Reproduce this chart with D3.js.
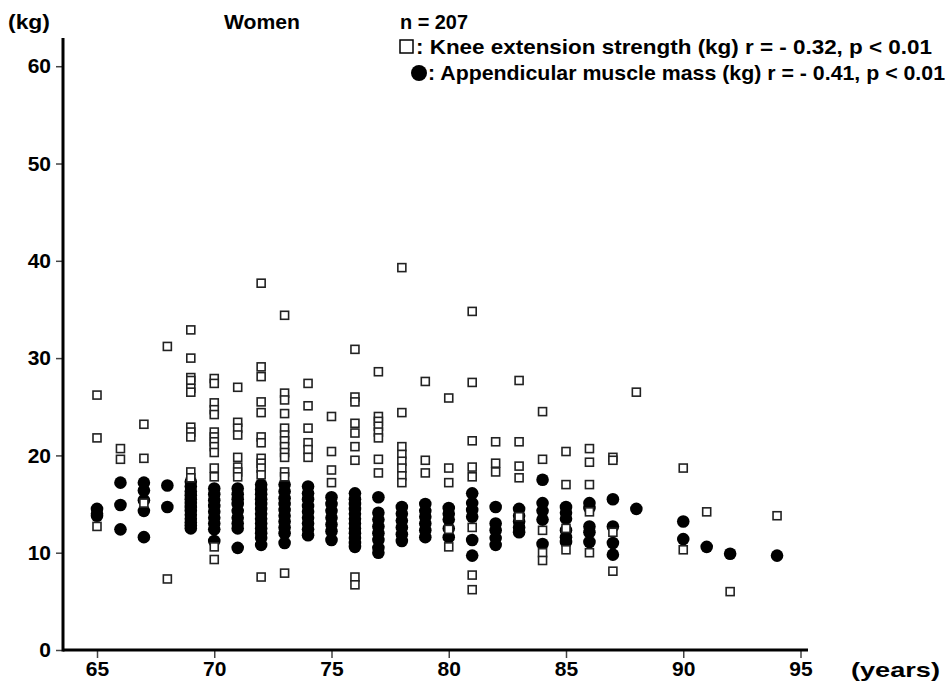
<!DOCTYPE html>
<html>
<head>
<meta charset="utf-8">
<script src="https://cdn.jsdelivr.net/npm/d3@7"></script>
<style>
  body { margin: 0; background: #fff; }
  text { font-family: "Liberation Sans", Arial, sans-serif; font-weight: bold; fill: #000; }
</style>
</head>
<body>
<div id="chart"></div>
<script>
// ages (years) with one entry per column of points
var ages = [65, 66, 67, 68, 69, 70, 71, 72, 73, 74, 75, 76, 77, 78, 79, 80, 81, 82, 83, 84, 85, 86, 87, 88, 90, 91, 92, 94];

// knee extension strength (kg), one list per age
var knee = [
    [26.2, 21.8, 12.7],
    [20.7, 19.6],
    [23.2, 19.7, 15.1],
    [31.2, 7.3],
    [32.9, 30.0, 28.0, 27.7, 26.9, 26.5, 22.9, 22.4, 21.9, 18.3, 17.7],
    [27.9, 27.4, 25.4, 24.7, 24.2, 22.4, 21.9, 21.4, 20.9, 20.3, 18.7, 17.8, 10.6, 9.3],
    [27.0, 23.4, 22.8, 22.1, 19.8, 18.8, 18.3, 17.8],
    [37.7, 29.1, 28.1, 25.5, 24.4, 21.9, 21.3, 19.7, 19.2, 18.7, 18.0, 7.5],
    [34.4, 26.4, 25.7, 24.3, 22.8, 22.1, 21.5, 20.9, 20.3, 19.8, 18.3, 17.8, 7.9],
    [27.4, 25.1, 22.8, 21.3, 20.6, 19.8],
    [24.0, 20.4, 18.5, 17.2],
    [30.9, 26.0, 25.5, 23.3, 22.3, 20.9, 19.5, 7.5, 6.7],
    [28.6, 24.0, 23.5, 23.0, 22.4, 21.8, 19.6, 18.2],
    [39.3, 24.4, 20.9, 20.1, 19.4, 18.7, 17.9, 17.2],
    [27.6, 19.5, 18.2],
    [25.9, 18.7, 17.2, 12.4, 10.6],
    [34.8, 27.5, 21.5, 18.8, 17.8, 12.6, 7.7, 6.2],
    [21.4, 19.2, 18.3],
    [27.7, 21.4, 18.9, 17.7, 13.7],
    [24.5, 19.6, 12.3, 10.0, 9.2],
    [20.4, 17.0, 12.5, 10.3],
    [20.7, 19.3, 17.0, 14.2, 10.0],
    [19.8, 19.5, 12.1, 8.1],
    [26.5],
    [18.7, 10.3],
    [14.2],
    [6.0],
    [13.8]
];

// appendicular muscle mass (kg), one list per age
var muscle = [
    [14.5, 14.0, 13.8],
    [17.2, 14.9, 12.4],
    [17.2, 16.4, 15.4, 14.3, 11.6],
    [16.9, 14.7],
    [17.3, 16.8, 16.3, 15.9, 15.5, 15.1, 14.7, 14.3, 13.9, 13.5, 13.1, 12.8, 12.5],
    [16.6, 16.0, 15.4, 14.8, 14.2, 13.6, 13.0, 12.4, 11.2],
    [16.6, 16.0, 15.5, 15.0, 14.3, 13.6, 13.0, 12.5, 10.5],
    [17.0, 16.5, 16.0, 15.5, 15.0, 14.5, 14.0, 13.5, 13.0, 12.5, 12.0, 11.5, 10.8],
    [17.0, 16.3, 15.6, 15.0, 14.4, 13.8, 13.2, 12.6, 12.0, 11.0],
    [16.8, 16.1, 15.5, 14.8, 14.2, 13.6, 13.0, 12.4, 11.8],
    [15.7, 15.0, 14.3, 13.6, 12.9, 12.2, 11.3],
    [16.1, 15.5, 15.0, 14.5, 14.0, 13.5, 13.0, 12.5, 12.0, 11.5, 11.0, 10.6],
    [15.7, 14.1, 13.4, 12.7, 12.0, 11.3, 10.5, 10.0],
    [14.7, 14.0, 13.3, 12.6, 11.9, 11.2],
    [15.0, 14.3, 13.7, 13.0, 12.3, 11.6],
    [14.6, 14.0, 13.4, 12.5, 11.6],
    [16.1, 15.1, 14.4, 13.7, 11.3, 9.7],
    [14.7, 13.0, 12.3, 11.5, 10.8],
    [14.5, 13.8, 13.2, 12.6, 12.1],
    [17.5, 15.1, 14.3, 13.4, 10.9],
    [14.7, 14.1, 13.5, 12.3, 11.6, 11.1],
    [15.1, 14.6, 12.7, 12.1, 11.1],
    [15.5, 12.7, 11.0, 9.8],
    [14.5],
    [13.2, 11.4],
    [10.6],
    [9.9],
    [9.7]
];

var xTicks = [65, 70, 75, 80, 85, 90, 95];
var yTicks = [0, 10, 20, 30, 40, 50, 60];

var chart_width = 948;
var chart_height = 681;
var font_size = 21;

var svg = d3.select('#chart')
    .append('svg')
    .attr('width', chart_width)
    .attr('height', chart_height);

// Scales
var x_scale = d3.scaleLinear()
    .domain([63.55, 95.32])
    .range([63, 808]);

var y_scale = d3.scaleLinear()
    .domain([0, 62.9])
    .range([650, 38]);

// flatten into point lists
var kneePts = [];
var musclePts = [];
ages.forEach(function(a, i){
    knee[i].forEach(function(v){ kneePts.push({age: a, v: v}); });
    muscle[i].forEach(function(v){ musclePts.push({age: a, v: v}); });
});

// Axes
var x_axis = d3.axisBottom(x_scale)
    .tickValues(xTicks)
    .tickSize(8)
    .tickPadding(3);
var y_axis = d3.axisLeft(y_scale)
    .tickValues(yTicks)
    .tickSize(7)
    .tickPadding(5);

var gx = svg.append('g')
    .attr('transform', 'translate(0,650)')
    .call(x_axis);
var gy = svg.append('g')
    .attr('transform', 'translate(63,0)')
    .call(y_axis);

[gx, gy].forEach(function(g){
    g.select('.domain').remove();
    g.selectAll('.tick line').attr('stroke', '#444').attr('stroke-width', 1.5);
    g.selectAll('.tick text')
        .attr('font-size', font_size)
        .attr('font-family', '"Liberation Sans", Arial, sans-serif')
        .attr('font-weight', 'bold')
        .attr('fill', '#000');
});

// thick axis lines
svg.append('line')
    .attr('x1', x_scale.range()[0]).attr('x2', x_scale.range()[1])
    .attr('y1', 650).attr('y2', 650)
    .attr('stroke', '#000').attr('stroke-width', 3);
svg.append('line')
    .attr('x1', 63).attr('x2', 63)
    .attr('y1', y_scale.range()[1]).attr('y2', 651.5)
    .attr('stroke', '#000').attr('stroke-width', 3);

// Points: circles first, squares on top
svg.append('g').selectAll('circle')
    .data(musclePts)
    .enter()
    .append('circle')
    .attr('cx', function(d){ return x_scale(d.age); })
    .attr('cy', function(d){ return y_scale(d.v); })
    .attr('r', 6.3)
    .attr('fill', '#000');

var sq = 8;
svg.append('g').selectAll('rect')
    .data(kneePts)
    .enter()
    .append('rect')
    .attr('x', function(d){ return x_scale(d.age) - sq / 2; })
    .attr('y', function(d){ return y_scale(d.v) - sq / 2; })
    .attr('width', sq)
    .attr('height', sq)
    .attr('fill', '#fff')
    .attr('stroke', '#222')
    .attr('stroke-width', 1.6);

// Labels
function label(x, y, len, str) {
    svg.append('text').attr('x', x).attr('y', y).attr('font-size', font_size)
        .attr('textLength', len).attr('lengthAdjust', 'spacingAndGlyphs').text(str);
}
label(8, 29, 42, '(kg)');
label(851, 677, 89, '(years)');
label(224, 29, 76, 'Women');
label(400, 29, 68, 'n = 207');

// Legend
svg.append('rect')
    .attr('x', 400).attr('y', 40).attr('width', 13).attr('height', 13)
    .attr('fill', '#fff').attr('stroke', '#000').attr('stroke-width', 1.5);
label(416, 54, 516, ': Knee extension strength (kg) r = - 0.32, p < 0.01');
svg.append('circle')
    .attr('cx', 419).attr('cy', 73).attr('r', 8)
    .attr('fill', '#000');
label(428, 80, 517, ': Appendicular muscle mass (kg) r = - 0.41, p < 0.01');
</script>
</body>
</html>
